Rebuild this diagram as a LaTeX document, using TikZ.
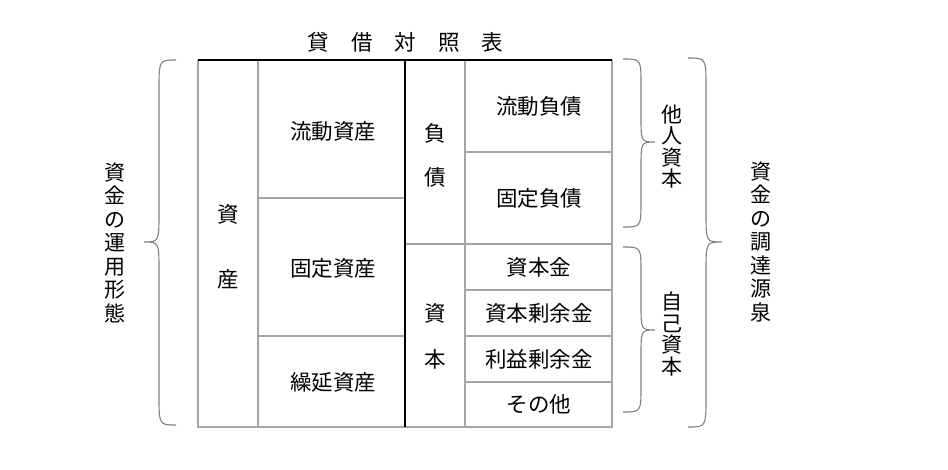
\documentclass[tikz,border=0pt]{standalone}
\usepackage{fontspec}
\setmainfont{Noto Sans CJK JP}
\definecolor{gridgray}{RGB}{165,165,165}
\definecolor{bracegray}{RGB}{128,128,128}
\newcommand{\mybrace}[7]{% E V T A M B r
  \draw[bracestyle] (#1,#4) .. controls (#2,#4) .. (#2,{#4+#7}) -- (#2,{#5-#7})
    .. controls (#2,#5) .. (#3,#5) .. controls (#2,#5) .. (#2,{#5+#7})
    -- (#2,{#6-#7}) .. controls (#2,#6) .. (#1,#6);}
\tikzset{
  thin line/.style={draw=gridgray, line width=1.1pt},
  thick line/.style={draw=black, line width=1.7pt},
  bracestyle/.style={draw=bracegray, line width=1.1pt},
  lbl/.style={inner sep=0pt, font=\fontsize{21.5}{23}\selectfont},
  vlbl/.style={inner sep=0pt, align=center, font=\fontsize{21}{23.5}\selectfont},
  vlbls/.style={inner sep=0pt, align=center, font=\fontsize{21}{21.5}\selectfont},
}
\begin{document}
\begin{tikzpicture}[x=1pt, y=-1pt]
\useasboundingbox (0,0) rectangle (948,469);
% grid
\draw[thin line] (198,60) -- (198,427) -- (612,427) -- (612,60);
\draw[thin line] (258,60) -- (258,427);
\draw[thin line] (465,60) -- (465,427);
\draw[thin line] (258,198) -- (405,198);
\draw[thin line] (258,336) -- (405,336);
\draw[thin line] (405,244) -- (612,244);
\draw[thin line] (465,152) -- (612,152);
\draw[thin line] (465,290) -- (612,290);
\draw[thin line] (465,336) -- (612,336);
\draw[thin line] (465,382) -- (612,382);
\draw[thick line] (198,60) -- (612,60);
\draw[thick line] (405,60) -- (405,427);
% title
\node[lbl] (title) at (405.5,42.5) {貸\hspace{22pt}借\hspace{22pt}対\hspace{22pt}照\hspace{22pt}表};
% left side
\node[lbl] (shi) at (228,214) {資};
\node[lbl] (san) at (228,279) {産};
\node[lbl] (ryudoshisan) at (333,131) {流動資産};
\node[lbl] (koteishisan) at (333,268) {固定資産};
\node[lbl] (kurinobe) at (333,382) {繰延資産};
% right side
\node[lbl] (fu) at (435,133) {負};
\node[lbl] (sai) at (435,177) {債};
\node[lbl] (ryudofusai) at (539,106) {流動負債};
\node[lbl] (koteifusai) at (539,198) {固定負債};
\node[lbl] (shi2) at (435,313) {資};
\node[lbl] (hon2) at (435,359) {本};
\node[lbl] (shihonkin) at (539,267) {資本金};
\node[lbl] (shihonjoyo) at (539,313) {資本剰余金};
\node[lbl] (riekijoyo) at (539,359) {利益剰余金};
\node[lbl] (sonota) at (539,404) {その他};
% braces
\mybrace{176}{159}{144}{60}{242}{425}{30}
\mybrace{623}{641}{655}{59}{142}{227}{26}
\mybrace{623}{641}{655}{247}{330}{412}{26}
\mybrace{688}{706}{722}{58}{242}{427}{30}
% vertical labels
\node[vlbl] (unyo) at (115,242.5) {資\\金\\の\\運\\用\\形\\態};
\node[vlbls] (tanin) at (672,146.5) {他\\人\\資\\本};
\node[vlbls] (jiko) at (672,334) {自\\己\\資\\本};
\node[vlbl] (chotatsu) at (761,242) {資\\金\\の\\調\\達\\源\\泉};
\end{tikzpicture}
\end{document}
